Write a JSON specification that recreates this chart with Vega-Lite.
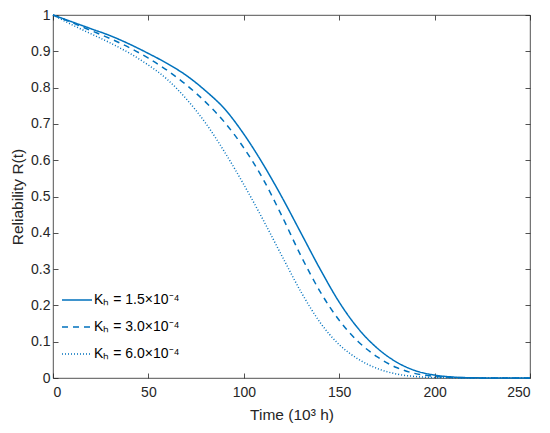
{
  "$schema": "https://vega.github.io/schema/vega-lite/v6.json",
  "autosize": "none",
  "width": 477,
  "height": 363,
  "padding": {"left": 53, "top": 15, "right": 20, "bottom": 55},
  "background": "white",
  "config": {
    "font": "Liberation Sans",
    "view": {"stroke": "#262626", "strokeWidth": 0.8},
    "axis": {
      "grid": false,
      "domain": false,
      "tickColor": "#262626",
      "tickSize": -5,
      "tickWidth": 0.8,
      "labelColor": "#262626",
      "labelFontSize": 14,
      "labelPadding": 8,
      "titleColor": "#262626",
      "titleFontSize": 15.5,
      "titleFontWeight": "normal"
    }
  },
  "data": {
    "values": [
      {"t": 0, "R": 1.0, "k": "Kₕ = 1.5×10⁻⁴"},
      {"t": 10, "R": 0.981, "k": "Kₕ = 1.5×10⁻⁴"},
      {"t": 20, "R": 0.962, "k": "Kₕ = 1.5×10⁻⁴"},
      {"t": 30, "R": 0.943, "k": "Kₕ = 1.5×10⁻⁴"},
      {"t": 40, "R": 0.92, "k": "Kₕ = 1.5×10⁻⁴"},
      {"t": 50, "R": 0.894, "k": "Kₕ = 1.5×10⁻⁴"},
      {"t": 60, "R": 0.866, "k": "Kₕ = 1.5×10⁻⁴"},
      {"t": 70, "R": 0.833, "k": "Kₕ = 1.5×10⁻⁴"},
      {"t": 80, "R": 0.791, "k": "Kₕ = 1.5×10⁻⁴"},
      {"t": 90, "R": 0.741, "k": "Kₕ = 1.5×10⁻⁴"},
      {"t": 100, "R": 0.672, "k": "Kₕ = 1.5×10⁻⁴"},
      {"t": 110, "R": 0.59, "k": "Kₕ = 1.5×10⁻⁴"},
      {"t": 120, "R": 0.498, "k": "Kₕ = 1.5×10⁻⁴"},
      {"t": 130, "R": 0.399, "k": "Kₕ = 1.5×10⁻⁴"},
      {"t": 140, "R": 0.3, "k": "Kₕ = 1.5×10⁻⁴"},
      {"t": 150, "R": 0.209, "k": "Kₕ = 1.5×10⁻⁴"},
      {"t": 160, "R": 0.136, "k": "Kₕ = 1.5×10⁻⁴"},
      {"t": 170, "R": 0.082, "k": "Kₕ = 1.5×10⁻⁴"},
      {"t": 180, "R": 0.044, "k": "Kₕ = 1.5×10⁻⁴"},
      {"t": 190, "R": 0.02, "k": "Kₕ = 1.5×10⁻⁴"},
      {"t": 200, "R": 0.008, "k": "Kₕ = 1.5×10⁻⁴"},
      {"t": 210, "R": 0.0025, "k": "Kₕ = 1.5×10⁻⁴"},
      {"t": 220, "R": 0.0006, "k": "Kₕ = 1.5×10⁻⁴"},
      {"t": 230, "R": 0.0001, "k": "Kₕ = 1.5×10⁻⁴"},
      {"t": 240, "R": 0.0, "k": "Kₕ = 1.5×10⁻⁴"},
      {"t": 250, "R": 0.0, "k": "Kₕ = 1.5×10⁻⁴"},
      {"t": 0, "R": 1.0, "k": "Kₕ = 3.0×10⁻⁴"},
      {"t": 10, "R": 0.979, "k": "Kₕ = 3.0×10⁻⁴"},
      {"t": 20, "R": 0.957, "k": "Kₕ = 3.0×10⁻⁴"},
      {"t": 30, "R": 0.935, "k": "Kₕ = 3.0×10⁻⁴"},
      {"t": 40, "R": 0.91, "k": "Kₕ = 3.0×10⁻⁴"},
      {"t": 50, "R": 0.881, "k": "Kₕ = 3.0×10⁻⁴"},
      {"t": 60, "R": 0.847, "k": "Kₕ = 3.0×10⁻⁴"},
      {"t": 70, "R": 0.807, "k": "Kₕ = 3.0×10⁻⁴"},
      {"t": 80, "R": 0.76, "k": "Kₕ = 3.0×10⁻⁴"},
      {"t": 90, "R": 0.704, "k": "Kₕ = 3.0×10⁻⁴"},
      {"t": 100, "R": 0.634, "k": "Kₕ = 3.0×10⁻⁴"},
      {"t": 110, "R": 0.549, "k": "Kₕ = 3.0×10⁻⁴"},
      {"t": 120, "R": 0.446, "k": "Kₕ = 3.0×10⁻⁴"},
      {"t": 130, "R": 0.336, "k": "Kₕ = 3.0×10⁻⁴"},
      {"t": 140, "R": 0.238, "k": "Kₕ = 3.0×10⁻⁴"},
      {"t": 150, "R": 0.159, "k": "Kₕ = 3.0×10⁻⁴"},
      {"t": 160, "R": 0.1, "k": "Kₕ = 3.0×10⁻⁴"},
      {"t": 170, "R": 0.058, "k": "Kₕ = 3.0×10⁻⁴"},
      {"t": 180, "R": 0.029, "k": "Kₕ = 3.0×10⁻⁴"},
      {"t": 190, "R": 0.012, "k": "Kₕ = 3.0×10⁻⁴"},
      {"t": 200, "R": 0.0045, "k": "Kₕ = 3.0×10⁻⁴"},
      {"t": 210, "R": 0.0015, "k": "Kₕ = 3.0×10⁻⁴"},
      {"t": 220, "R": 0.0004, "k": "Kₕ = 3.0×10⁻⁴"},
      {"t": 230, "R": 0.0, "k": "Kₕ = 3.0×10⁻⁴"},
      {"t": 240, "R": 0.0, "k": "Kₕ = 3.0×10⁻⁴"},
      {"t": 250, "R": 0.0, "k": "Kₕ = 3.0×10⁻⁴"},
      {"t": 0, "R": 1.0, "k": "Kₕ = 6.0×10⁻⁴"},
      {"t": 10, "R": 0.973, "k": "Kₕ = 6.0×10⁻⁴"},
      {"t": 20, "R": 0.948, "k": "Kₕ = 6.0×10⁻⁴"},
      {"t": 30, "R": 0.923, "k": "Kₕ = 6.0×10⁻⁴"},
      {"t": 40, "R": 0.895, "k": "Kₕ = 6.0×10⁻⁴"},
      {"t": 50, "R": 0.862, "k": "Kₕ = 6.0×10⁻⁴"},
      {"t": 60, "R": 0.822, "k": "Kₕ = 6.0×10⁻⁴"},
      {"t": 70, "R": 0.768, "k": "Kₕ = 6.0×10⁻⁴"},
      {"t": 80, "R": 0.702, "k": "Kₕ = 6.0×10⁻⁴"},
      {"t": 90, "R": 0.622, "k": "Kₕ = 6.0×10⁻⁴"},
      {"t": 100, "R": 0.533, "k": "Kₕ = 6.0×10⁻⁴"},
      {"t": 110, "R": 0.437, "k": "Kₕ = 6.0×10⁻⁴"},
      {"t": 120, "R": 0.336, "k": "Kₕ = 6.0×10⁻⁴"},
      {"t": 130, "R": 0.237, "k": "Kₕ = 6.0×10⁻⁴"},
      {"t": 140, "R": 0.153, "k": "Kₕ = 6.0×10⁻⁴"},
      {"t": 150, "R": 0.092, "k": "Kₕ = 6.0×10⁻⁴"},
      {"t": 160, "R": 0.052, "k": "Kₕ = 6.0×10⁻⁴"},
      {"t": 170, "R": 0.026, "k": "Kₕ = 6.0×10⁻⁴"},
      {"t": 180, "R": 0.011, "k": "Kₕ = 6.0×10⁻⁴"},
      {"t": 190, "R": 0.004, "k": "Kₕ = 6.0×10⁻⁴"},
      {"t": 200, "R": 0.0012, "k": "Kₕ = 6.0×10⁻⁴"},
      {"t": 210, "R": 0.0003, "k": "Kₕ = 6.0×10⁻⁴"},
      {"t": 220, "R": 0.0, "k": "Kₕ = 6.0×10⁻⁴"},
      {"t": 230, "R": 0.0, "k": "Kₕ = 6.0×10⁻⁴"},
      {"t": 240, "R": 0.0, "k": "Kₕ = 6.0×10⁻⁴"},
      {"t": 250, "R": 0.0, "k": "Kₕ = 6.0×10⁻⁴"}
    ]
  },
  "layer": [
    {
      "mark": {"type": "line", "interpolate": "monotone", "strokeWidth": 1.5, "color": "#0072BD"},
      "encoding": {
        "x": {
          "field": "t",
          "type": "quantitative",
          "scale": {"domain": [0, 250], "nice": false},
          "axis": {"values": [0, 50, 100, 150, 200, 250], "title": "Time (10³ h)", "labelPadding": 12, "titlePadding": 8}
        },
        "y": {
          "field": "R",
          "type": "quantitative",
          "scale": {"domain": [0, 1], "nice": false},
          "axis": {"values": [0, 0.1, 0.2, 0.3, 0.4, 0.5, 0.6, 0.7, 0.8, 0.9, 1], "labelExpr": "datum.value", "title": "Reliability R(t)", "titlePadding": 5}
        },
        "strokeDash": {
          "field": "k",
          "type": "nominal",
          "scale": {"range": [[1, 0], [6, 5], [1, 2]]},
          "legend": {
            "title": null,
            "orient": "none",
            "legendX": 8,
            "legendY": 269,
            "symbolType": "stroke",
            "symbolSize": 900,
            "symbolStrokeWidth": 1.5,
            "symbolStrokeColor": "#0072BD",
            "labelFontSize": 14,
            "labelColor": "#000000",
            "labelLimit": 300,
            "rowPadding": 4,
            "labelOffset": 1
          }
        }
      }
    },
    {
      "mark": {"type": "line", "opacity": 0},
      "encoding": {
        "x": {
          "field": "t",
          "type": "quantitative",
          "axis": {"orient": "top", "values": [0, 50, 100, 150, 200, 250], "labels": false, "title": null}
        },
        "y": {
          "field": "R",
          "type": "quantitative",
          "axis": {"orient": "right", "values": [0, 0.1, 0.2, 0.3, 0.4, 0.5, 0.6, 0.7, 0.8, 0.9, 1], "labels": false, "title": null}
        }
      }
    }
  ],
  "resolve": {"axis": {"x": "independent", "y": "independent"}}
}
